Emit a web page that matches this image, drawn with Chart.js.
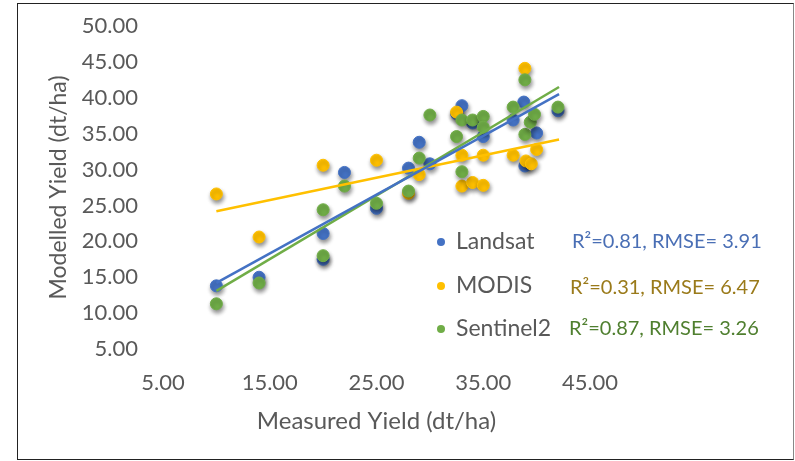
<!DOCTYPE html>
<html>
<head>
<meta charset="utf-8">
<script src="https://cdn.jsdelivr.net/npm/chart.js@4.4.1/dist/chart.umd.min.js"></script>
<style>
  html, body { margin: 0; padding: 0; background: #fff; }
  #wrap { position: relative; width: 795px; height: 461px; }
  #frame {
    position: absolute; left: 17px; top: 3px; width: 775px; height: 455px;
    border: 1px solid #222; border-right-color: #888; pointer-events: none;
  }
</style>
</head>
<body>
<div id="wrap">
  <canvas id="c" width="795" height="461"></canvas>
  <div id="frame"></div>
</div>
<script>
// measured vs modelled yield (dt/ha)
const seriesNames = ['Landsat', 'MODIS', 'Sentinel2'];
const seriesColors = ['#4472C4', '#FFC000', '#70AD47'];
const statColors = ['#4a6fb5', '#9a7a1a', '#4f7f2f'];
const r2Values = ['0.81', '0.31', '0.87'];
const rmseValues = ['3.91', '6.47', '3.26'];

const landsat = [[10,13.8],[14,15.0],[20,17.5],[20,21.1],[22,29.6],[25,24.6],[28,30.2],[29,33.8],[30,30.8],
  [32.5,37.8],[33,38.9],[34,36.5],[35,34.6],[37.8,36.9],[38.8,39.4],[38.9,30.5],[40,35.1],[42,38.2]];
const modis = [[10,26.6],[14,20.6],[20,30.6],[25,31.3],[28,26.7],[29,29.3],[32.5,38.0],[33,32.0],[33,27.7],
  [34,28.2],[35,32.0],[35,27.8],[37.8,32.0],[38.9,44.1],[39,31.2],[39.5,30.8],[40,32.8]];
const sentinel2 = [[10,11.3],[14,14.2],[20,18.0],[20,24.4],[22,27.7],[25,25.3],[28,27.0],[29,31.6],[30,37.6],
  [32.5,34.6],[33,36.9],[33,29.7],[34,36.9],[35,37.4],[35,35.9],[37.8,38.7],[38.9,42.5],[38.9,34.9],
  [39.4,36.6],[39.8,37.7],[42,38.7]];

// linear trendline end points
const landsatTrend = [[10,14.2],[42.1,40.5]];
const modisTrend = [[10,24.2],[42.1,34.2]];
const sentinel2Trend = [[10,13.1],[42.1,41.5]];

const xTicks = [5, 15, 25, 35, 45];
const yTicks = [5, 10, 15, 20, 25, 30, 35, 40, 45, 50];

const toPts = arr => arr.map(p => ({x: p[0], y: p[1]}));
const FONT = 'Lato, "Open Sans", sans-serif';

const pointSets = [landsat, modis, sentinel2];
const trendSets = [landsatTrend, modisTrend, sentinel2Trend];

const datasets = [];
// trendlines on top
trendSets.forEach((t, i) => datasets.push({
  label: seriesNames[i] + ' trend', data: toPts(t), showLine: true,
  borderColor: seriesColors[i], borderWidth: 2.5, pointRadius: 0, order: 0, isTrend: true
}));
// Sentinel2 over MODIS over Landsat
pointSets.forEach((s, i) => datasets.push({
  label: seriesNames[i], data: toPts(s), showLine: false,
  backgroundColor: seriesColors[i], borderColor: seriesColors[i], borderWidth: 1,
  pointRadius: 6, order: 3 - i
}));

// soft drop shadow on markers like the office chart
const shadowPlugin = {
  id: 'markerShadow',
  beforeDatasetDraw(chart, args) {
    if (args.meta._dataset.isTrend) return;
    const ctx = chart.ctx;
    ctx.save();
    ctx.shadowColor = 'rgba(0,0,0,0.45)';
    ctx.shadowBlur = 4;
    ctx.shadowOffsetX = 1;
    ctx.shadowOffsetY = 3;
  },
  afterDatasetDraw(chart, args) {
    if (args.meta._dataset.isTrend) return;
    chart.ctx.restore();
  }
};

// legend + stats inside the plot
const legendPlugin = {
  id: 'innerLegend',
  afterDraw(chart) {
    const ctx = chart.ctx;
    const rows = [242, 286, 329];
    ctx.save();
    ctx.textBaseline = 'middle';
    seriesNames.forEach((name, i) => {
      ctx.fillStyle = seriesColors[i];
      ctx.beginPath();
      ctx.arc(441, rows[i], 4, 0, Math.PI * 2);
      ctx.fill();
      ctx.font = '23px ' + FONT;
      ctx.fillStyle = '#595959';
      ctx.fillText(name, 456, rows[i]);
      ctx.font = '20px ' + FONT;
      ctx.fillStyle = statColors[i];
      ctx.fillText('R²=' + r2Values[i] + ', RMSE= ' + rmseValues[i], [572, 570, 569][i], rows[i] + (i === 1 ? 2 : 0));
    });
    ctx.restore();
  }
};

new Chart(document.getElementById('c'), {
  type: 'scatter',
  data: { datasets: datasets },
  options: {
    responsive: false,
    animation: false,
    events: [],
    layout: { padding: { left: 40, top: 26, right: 205, bottom: 21 } },
    plugins: { legend: { display: false }, tooltip: { enabled: false } },
    scales: {
      x: {
        min: 5, max: 45,
        grid: { display: false, drawTicks: false },
        border: { display: false },
        afterBuildTicks: s => { s.ticks = xTicks.map(v => ({value: v})); },
        afterFit: s => { s.height = 91; },
        ticks: { color: '#595959', font: { family: FONT, size: 22 }, padding: 21,
          callback: v => Number(v).toFixed(2), maxRotation: 0 },
        title: { display: true, text: 'Measured Yield (dt/ha)', color: '#595959',
          font: { family: FONT, size: 24 }, padding: 4 }
      },
      y: {
        min: 5, max: 50,
        grid: { display: false, drawTicks: false },
        border: { display: false },
        afterBuildTicks: s => { s.ticks = yTicks.map(v => ({value: v})); },
        afterFit: s => { s.width = 123; s.paddingTop = 0; s.paddingBottom = 0; },
        ticks: { color: '#595959', font: { family: FONT, size: 22 }, padding: 25,
          callback: v => Number(v).toFixed(2) },
        title: { display: true, text: 'Modelled Yield (dt/ha)', color: '#595959',
          font: { family: FONT, size: 23 }, padding: 5 }
      }
    }
  },
  plugins: [shadowPlugin, legendPlugin]
});
</script>
</body>
</html>
